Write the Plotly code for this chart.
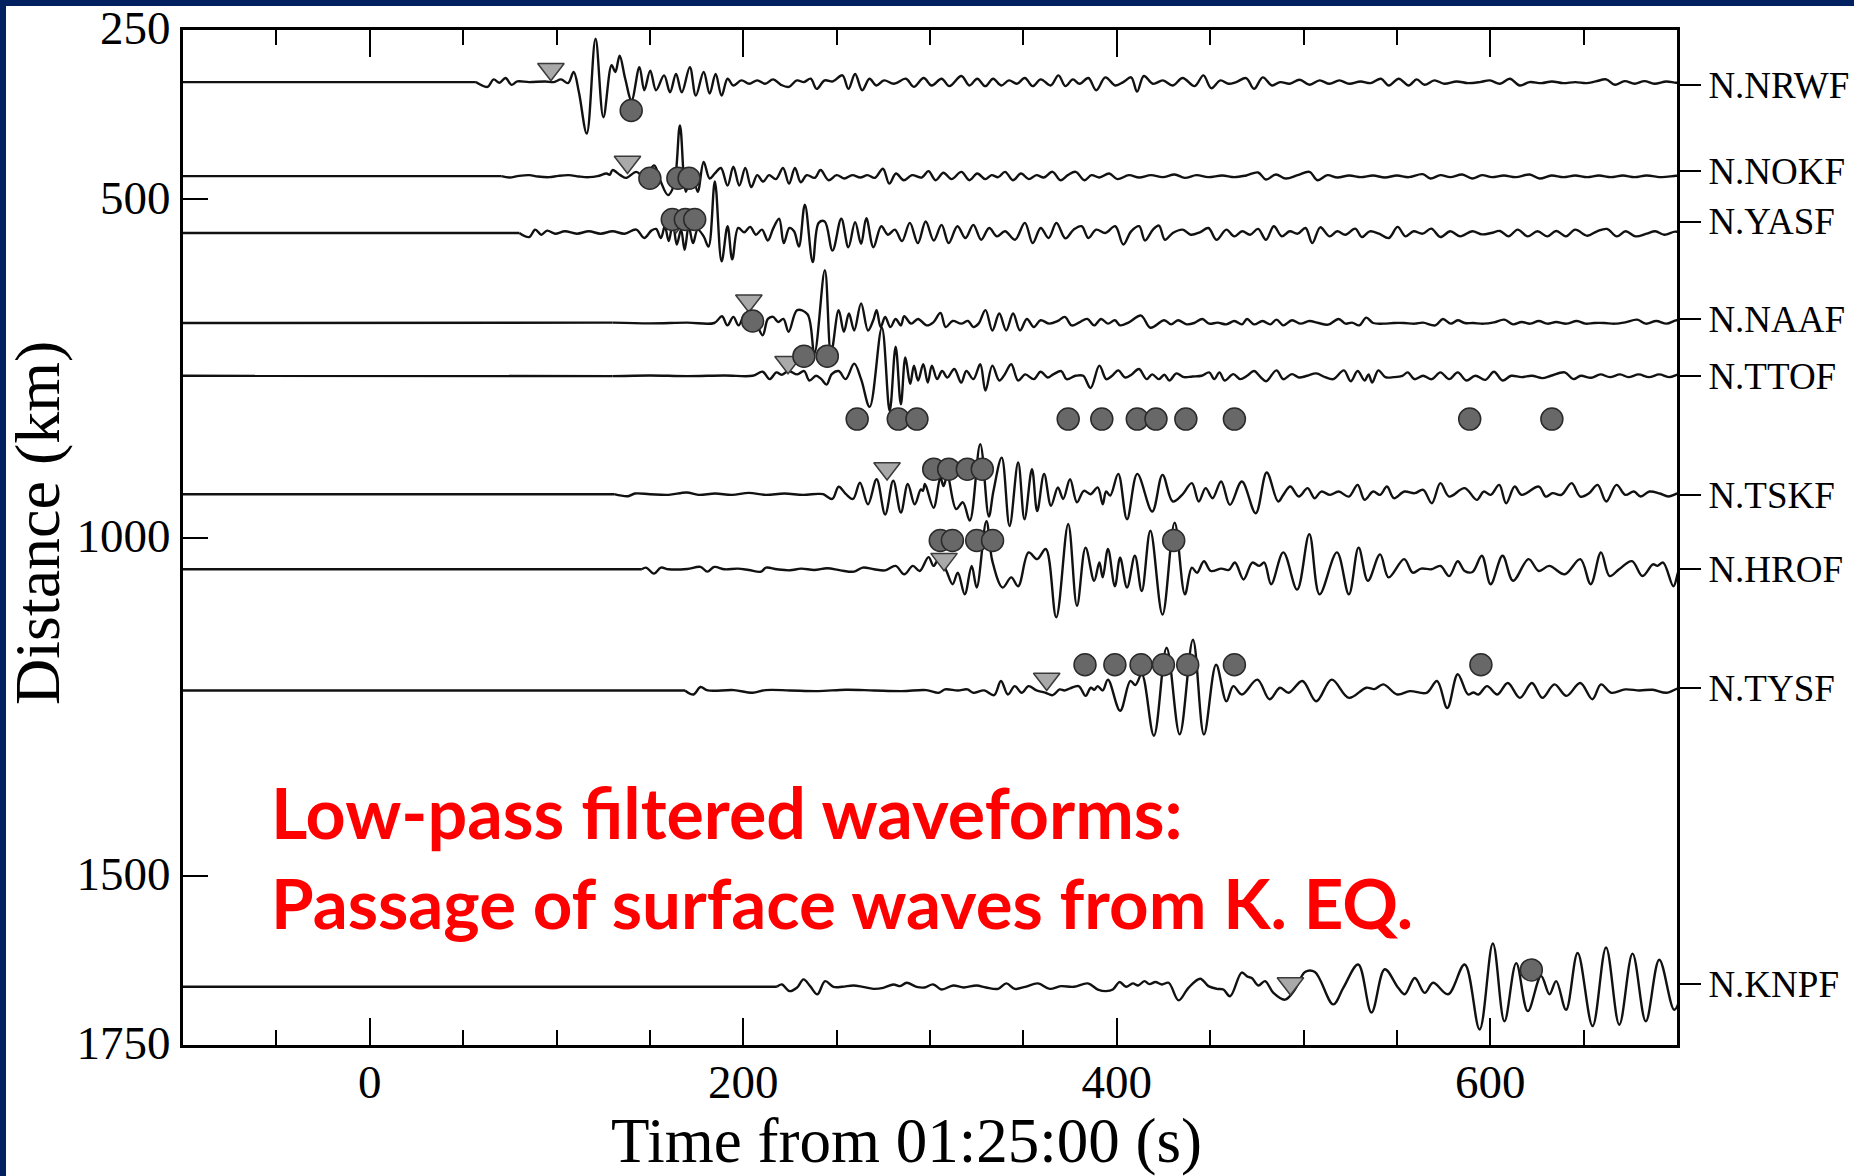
import plotly.graph_objects as go

# ---------------------------------------------------------------
# Station list, label positions (right axis) and trace baselines (km)
# ---------------------------------------------------------------
STATIONS = ["N.NRWF", "N.NOKF", "N.YASF", "N.NAAF", "N.TTOF",
            "N.TSKF", "N.HROF", "N.TYSF", "N.KNPF"]
LABEL_KM = [332, 459, 533, 677, 761, 937, 1047, 1223, 1660]
TRACE_KM = [327, 466, 550, 683, 761, 936, 1047, 1226, 1664]

# Waveform extrema: (time from 01:25:00 in s, deflection in km, up = +)
NRWF = [(-100, 0), (56.8, 0), (63.1, -7), (66.3, 4), (69.5, -1), (72.7, 6), (75.9, -4), (79, 1),
        (85.4, 0), (93.9, 1), (98.6, 0), (102.4, 4), (106.2, -1.5), (109.2, 15), (112, -15),
        (116.2, -76), (120.9, 64), (125.1, -52), (129.5, 25), (131.5, 15), (133.8, 39), (136.8, 5),
        (140.2, -27), (144.4, 22), (147, -12), (150.2, 17), (153.3, -12), (157.6, 10), (160.8, -15),
        (164, 12), (167.1, -15), (171.4, 22), (174.6, -20), (178.8, 15), (182, -17), (185.2, 12),
        (188.4, -20), (191.6, 5), (194.7, -5), (199, 2.5), (203.2, -2.5), (207.5, 2.5), (211.7, -2.5),
        (216, 4), (220.2, -4), (224.5, -7), (228.7, 2.5), (232.5, 0), (236.1, 5), (239.3, -10),
        (243.6, 2.5), (248, 1), (253.1, 10), (256.3, -10), (259.9, 12), (263.7, -12), (267.6, 5),
        (271.2, -5), (275.4, 2.5), (280.7, -2.5), (287.1, 5), (291.3, -7), (296.6, 6), (300.9, -5),
        (306.2, 5), (310.4, -6), (316.8, 9), (321.1, -5), (325.3, 5), (329.6, -6), (333.8, 5),
        (338.1, -5), (342.3, 2.5), (346.5, -2.5), (350.8, 6), (355, -6), (359.3, 4), (364.6, -5),
        (368.8, 10), (372.5, -6), (376.5, 4), (380.1, -2.5), (384.8, 6), (389, -12), (393.9, 7),
        (399.2, -5), (403.5, 0), (407.7, 7), (410.9, -14), (414.5, 9), (419.4, -2.5), (424.7, 2.5),
        (430, -5), (435.3, 6), (441.7, -6), (446.4, 10), (450.6, -9), (455.5, 2.5), (459.7, -2.5),
        (464, 0), (469.3, 6), (473.5, -10), (478.2, 7), (483.1, -5), (487.5, 0), (492.6, -2.5),
        (497.9, 3.5), (503.3, -4), (508.6, 2.5), (513.9, -2.5), (519.2, 2.5), (524.5, -2.5),
        (530.5, 1), (536, -1.5), (541.5, 5), (545.7, -5), (551, 5), (556.3, -5), (560.6, 4),
        (564.8, -4), (570.1, 2.5), (575.4, -2.5), (582, 1), (588, -1.5), (594.5, 0), (599.8, 2.5),
        (605.2, -2.5), (610.5, 5), (615.8, -5), (621, 0), (627.5, -1.5), (633, 1), (639, -1.5),
        (645.5, 0), (651.5, -1.5), (656.5, 1), (662.1, 4), (666.7, -4), (672, 1.5), (677.3, -2.5),
        (682.6, 1.5), (687.9, -2.5), (694.3, 1), (699.6, -1), (702, 0)]

NOKF = [(-100, 0), (70.5, 0), (74.8, -2), (80, 0.5), (85.4, 1.5), (90, -0.5), (96, -1.5), (101, 0.5),
        (106.6, 1.5), (112, -0.5), (117.3, -1.5), (122, 0), (126.8, 4), (128.5, 2), (130, 9),
        (134.2, 1.5), (137.4, -2.5), (142.7, 6.4), (147, -1), (152.3, 16), (155.5, -6), (159.7, -28),
        (162.9, -13), (166.1, 75), (169.3, -23), (172.5, 6.4), (175.6, -23), (178.8, 21), (182, -3.5),
        (184.8, 4), (188, 12), (191.6, -14), (194.7, 14), (197.9, -14), (201.1, 12), (204.3, -16),
        (207.5, 1.5), (210.7, -8), (213.8, 1.5), (217.5, -4.4), (221.3, 12), (224.5, -11), (227.7, 12),
        (230.8, -9), (234, 1.5), (238.3, -2.5), (241.4, 9), (245.7, -6), (250, 1.5), (254.2, -3.5),
        (258.4, 1.5), (262.7, -2), (266.5, 1.5), (270.5, -2.5), (274.8, 11), (278.2, -11), (281.8, 4),
        (286, -6), (290.3, 1.5), (295.6, -2), (299.2, 7.4), (303, -6), (307.2, 5), (311.5, -4.4),
        (316.8, 6.4), (321.1, -6), (325.3, 4), (329.6, -4.4), (333, 1.5), (336.5, -1.5), (340.2, 6.4),
        (344.4, -6), (348.7, 4), (352.9, -4.4), (357, 1.5), (361, -2), (365.6, 6.4), (369.9, -6),
        (373.8, 1.5), (378, 6.4), (382.7, -6), (386.5, 1.5), (390.7, -2), (396, 4), (400.3, -4.4),
        (406.5, 1.5), (412, -2), (418.3, 1.5), (424.7, -1.5), (431, 2.5), (436.4, -2.5), (442.7, 1.5),
        (449, -1.5), (456.5, 1), (463, -1.5), (469.3, 1), (475.7, 5.4), (479.9, -5), (485.2, 2.5),
        (490.5, -3.5), (496.9, 1.5), (503.2, 6.4), (507.5, -6), (512.8, 1.5), (518.1, -2), (524.5, 1),
        (530.8, -1.5), (537.2, 1), (543.6, -2), (550, 1), (556.3, -1.5), (563.8, 3), (568, -3.5),
        (573.3, 1.5), (578.6, -1.5), (585, 2.5), (590.3, -3.5), (595.6, 1.5), (600.9, -1.5),
        (607.3, 1), (613.7, -1.5), (621.1, 2.5), (626.4, -3.5), (632.8, 1), (639.2, -1.5), (645.5, 1),
        (651.9, -1.5), (658.2, 1), (664.6, -1.5), (671, 1), (677.3, -1.5), (683.7, 1), (692, -1.5),
        (699.6, 0.5), (702, 0)]

YASF = [(-100, 0), (80.1, 0), (85.4, -6), (88.6, 5), (91.8, -2.5), (95, 3.5), (99.2, -1), (104.5, 2.5),
        (110.9, -1), (117.3, 2.5), (123.6, -1), (130, 2.5), (136.4, -1), (142.7, 5), (147, -7.4),
        (150.8, 3.5), (153.3, 6), (155.9, -7.4), (158, 10), (160.1, -12), (162.3, 15), (164.4, -17),
        (166.7, 5), (168.6, -25), (170.8, 10), (173.1, -15), (175.6, 5), (178.8, -5), (181.4, -20),
        (184.8, 76), (188.4, -42), (191.6, 10), (194.1, -39), (197.3, 7.4), (200.5, 1), (203.7, 9),
        (206.8, -2.5), (210, 5), (213.2, -11), (216, 6.4), (219.2, 21), (221.7, -15), (224.7, 7.4),
        (227.2, 2.5), (229.8, -20), (233, 42), (237.2, -43), (240.4, 15), (243.6, 17), (247.8, -26),
        (252.5, 21), (256.3, -21), (259.9, 16), (263.1, -16), (265.9, 22), (269.7, -21), (273.9, 10),
        (277.5, -2.5), (281.2, 5), (285, -12), (289.2, 15), (293.5, -15), (297.7, 17), (302, -11),
        (306.2, 12), (310, -15), (314.7, 10), (319, -7.4), (323.2, 12), (327.4, -10), (331.7, 7.4),
        (335.9, -5), (340.2, 2.5), (345.5, -10), (350.8, 15), (355, -15), (359.3, 7.4), (363.5, -7.4),
        (367.7, 15), (372.5, -8), (376.9, 5), (381.2, 10), (384.8, -7.4), (389, 5), (393.9, 0),
        (399.2, 10), (403.5, -17), (407.7, 2.5), (412, 10), (415.1, -11), (419.4, 5), (422.6, 11),
        (425.8, -10), (430, 0), (435.3, 5), (439.6, -2.5), (444.5, 1), (449.1, 7.4), (453.4, -10),
        (458.7, 5), (462.9, -5), (467.2, 2.5), (471.4, -2.5), (475.7, 6), (479.9, -10), (484.1, 10),
        (488.4, -5), (492.6, 2.5), (496.9, -1), (501.1, 7.4), (504.7, -15), (509, 8.4), (513.9, -5),
        (518.1, 2.5), (522.4, -2.5), (527.7, 6.4), (531.3, -6), (535.5, 2.5), (540.4, -1),
        (545.7, -7.4), (550.4, 9), (554.6, -5), (558.9, 2.5), (563.8, -1), (568.4, 6.4), (573.3, -6),
        (578.6, 2.5), (583.9, -5), (590.3, 2.5), (595.6, -2), (600.5, 0), (605.2, 3), (609.8, -5),
        (614.7, 5), (620, -5), (625.3, 2.5), (630.6, -5), (635.3, 3), (640.6, -5), (645.5, 5),
        (651.9, -4), (657.2, 2.5), (662.5, 6), (667.8, -5), (672.5, 2.5), (677.8, -5), (683.7, -1),
        (688.4, 2.5), (693.2, -2.5), (699, 2), (702, 0)]

NAAF = [(-100, 0), (130, 0.5), (150, -0.5), (170, 0.5), (184.5, 0), (188.6, 10), (191.5, -3.5),
        (194.7, 9), (197.5, -3.5), (201.2, 14), (205.8, 6), (210.4, -18), (213.2, 6), (216, 9),
        (218.7, 1.5), (221.5, 6), (224.3, -13), (228.9, 19), (234.4, 13), (238.1, -45), (243.7, 78),
        (247, -45), (251.1, 19), (253.9, -13), (256.6, 14), (259.4, -11), (263.1, 29), (266.8, -11),
        (269.6, 4), (271.4, 19), (273.6, -6), (276, 9), (278.8, -6), (281.6, 6), (284.4, -3.5),
        (286.2, 10), (289.9, -1), (293.6, 6), (298.2, -3.5), (301.8, 1), (305.6, 15), (308.4, -6),
        (312.1, 3), (316.7, -1), (320.4, 3), (323.2, -6), (326, -1), (329.7, 19), (333.4, -11),
        (337.1, 14), (340.8, -11), (344.5, 14), (348.2, -11), (351.9, 6), (355.6, -6), (359.2, 4),
        (363.9, -1), (368.5, 3), (372.2, 9), (375.9, -3.5), (380, 1), (384.2, 6), (387.9, -3.5),
        (391.6, 6), (395.3, -1), (399, 4), (401.8, -3.5), (406.5, 1), (413, 11), (418, -7),
        (425.4, 4), (429.1, -2), (432.8, 4), (437.4, -2), (441.5, 0), (445.8, 6), (449.5, -1),
        (454, 0.5), (458.7, -2), (463, 3), (467, -2), (469.8, 6), (473.5, -2), (478.1, 3),
        (482.2, -2), (485.5, 5), (489.2, -3.5), (493.8, 4), (498.5, -1), (503.1, 3), (508, 0),
        (513.2, -2.5), (518.8, 6), (522.5, -1), (526, 0.5), (529.9, -3.5), (533.6, 8), (537.3, 0),
        (542.8, -1), (548.3, 0), (553.9, 0), (559.5, -1), (564, 0.5), (570.6, -3.5), (574.6, 6),
        (578.9, -1), (582.6, 4), (586.3, 0), (590.9, 0), (596.5, -1), (602, 1), (607.5, 5),
        (612.2, -2), (616.8, 1.5), (621.4, -1), (626, 3), (630.6, -1), (635.3, 1.5), (640.8, -1),
        (646.4, 3), (651, -1), (655.6, 0), (661.2, 0), (666.7, -1), (672.3, 1), (678.7, 5),
        (683.3, -1), (688.9, 3), (694.4, -1), (700, 4), (702, 0)]

TTOF = [(-100, 0), (130, -0.5), (150, 0.5), (170, -0.5), (190, 0.5), (205, 0), (210.4, 6), (214.1, -5),
        (217.8, 5), (220.5, 1.5), (224.3, 7), (228.9, 2), (232.6, 7), (235.4, -7), (239, 0),
        (241.8, -5), (244.6, -13), (247.4, 2.5), (251.1, 7), (254.8, -5), (259.4, 18), (263.1, -5),
        (267.7, -46), (274.2, 71), (278.4, -52), (281.6, 43), (284.4, -42), (286.8, 27), (289.4, -12),
        (291.4, 15), (293.6, -7), (296.4, 17), (298.8, -10), (301, 15), (303.8, -5), (306.5, 7),
        (309.3, -2.5), (313, 10), (316.7, -10), (319.5, 7), (323.2, -5), (326.9, 17), (329.7, -22),
        (333.4, 15), (337.1, -7), (340, 2), (343.5, 17), (347.2, -7), (351, 2), (355.6, -5),
        (359.2, 6), (363, -2.5), (366, 2), (370.3, 7), (373.1, -5), (378, 0), (382, 0), (386, -18),
        (390.7, 15), (394.4, -5), (397.5, 0), (400.8, 8), (404.5, -2.5), (408, 2), (411.9, 10),
        (416, -5), (419, 2), (422.5, -5), (425.5, 1.5), (428.2, -7), (431.9, 3.5), (436, -2),
        (440.5, -1), (445.5, 0), (449.5, 5), (452.2, -5), (455, 5), (457.8, -7), (462.4, 2.5),
        (466.1, -5), (469.8, 0), (473.5, 7), (477.2, -2.5), (480, -8), (485.5, 8), (489.2, -5),
        (493.8, 2.5), (497.5, -2.5), (502, 0), (506.8, 3.5), (511.5, -2), (516, -5), (521.6, 8),
        (525.3, -8), (529, 7), (532.7, -7), (534.8, 2), (536.8, -10), (540.1, 8), (543.8, -2),
        (548.4, -2), (553, 0), (555.8, 5), (559.5, -5), (564, 0), (568.7, -5), (573.3, 5), (578, -5),
        (582.6, 5), (587.2, -7), (592, 0), (597.4, -6), (602, 6), (606.6, -7), (611.2, 0),
        (616.8, -2), (622.3, 0), (627.9, -3.5), (632.5, 0), (639.9, 5), (644.5, -5), (648.5, 0),
        (654, -3), (659, 2), (664, -2), (669.5, 2), (674, -2), (679.5, 2), (685, -2), (690.5, 2),
        (696, -2), (701, 2), (702, 0)]

TSKF = [(-100, 0), (130.9, 0), (138.3, -3), (142, 1), (150, 0), (160, -1), (169.7, 2.5), (176, -1),
        (185, 1), (194, -1), (203, 2), (212, -1), (222, 1), (232, -1), (240, 0.5), (242.8, 0),
        (247.7, -7), (251.1, 11), (255, 0), (258.8, -7), (262.5, 17), (266.8, -15), (271.4, 22),
        (276, -30), (280.3, 20), (284.4, -27), (288.1, 15), (291.8, -15), (295.1, 7), (296.2, 5),
        (297.3, 15), (301.9, -20), (305.6, 25), (307.2, 12), (309.3, 27), (314, -22), (317.6, -12),
        (321.3, -39), (326.9, 74), (331.5, -33), (334, 5), (338.4, 54), (342.6, -47), (347.2, 47),
        (350.6, -37), (354.6, 37), (357.4, -25), (361.1, 30), (364.8, -17), (368.5, 10), (371.3, -7),
        (375, 22), (378.7, -12), (382.4, 5), (386, 0), (389.8, 10), (392.5, -15), (394.3, 4),
        (396.5, -2), (400.8, 30), (405.5, -37), (411, 30), (419, -25.6), (424.5, 28.6), (430, -10.8),
        (435, -1), (440.2, 16.3), (443.9, -10.8), (447.6, 8.9), (451.3, -5.9), (455.9, 18.7),
        (460.6, -15.8), (467, 18.7), (474.4, -28.1), (480.3, 32), (486.4, -10.8), (489.2, -1),
        (492.9, 11.3), (497.5, -3.5), (502.2, 8.9), (505.9, -5.9), (509.5, 3.9), (514.2, -1),
        (518.8, 3.9), (524.3, -3.5), (529, 13.8), (532.7, -8.4), (537.3, 3.9), (541, -1),
        (544.7, 11.3), (548.4, -5.9), (554, 3.9), (559.5, 1.5), (564.1, 6.4), (568.7, -13.3),
        (573.3, 16.3), (578, -3.5), (586.3, 8.9), (592.8, -8.4), (596.5, 3.9), (600.2, -1),
        (604.8, 13.8), (608.5, -13.3), (613.1, 11.3), (616.8, -1), (626, 11.3), (629.7, -3.5),
        (633.4, 1.5), (638.1, -1), (643.6, 16.3), (648.2, -3.5), (652.9, 1.5), (657.5, 13.8),
        (662.1, -10.8), (667.6, 13.8), (672.3, -1), (676.9, 3.9), (680.6, -3.5), (685.2, 3.9),
        (690.8, 1), (695.4, -3.5), (700.9, 1.5), (702, 0)]

HROF = [(-100, 0), (145.7, 0), (148, 2.5), (152.2, -6.4), (155.9, 2.5), (160, 0), (170, 0.5),
        (177.1, 3.5), (180.8, -3.5), (184.5, 3.5), (190, 0), (197, 1), (203, -1), (209.5, -3.5),
        (212.2, 2.5), (218, 0), (225, -1.5), (231, 1), (238, -1), (245, 1.5), (252, -1.5),
        (259.4, -3.5), (264, 2.5), (270, 0), (276, -1.5), (281.6, 5), (286.2, -7.4), (290.8, 5),
        (294.5, -2.5), (299.2, 18), (301.9, 5), (304.7, 15), (308.4, 0), (312.1, -22), (314.9, -5),
        (318.6, -37), (322.3, 5), (325, -27), (330.2, 71), (333.4, 12), (338.9, -27), (343.5, -12),
        (347.2, -25), (352.8, 25), (357.4, 15), (362, 30), (367.6, -71), (374, 67), (378.7, -54),
        (383.3, 32), (387.9, -17), (390.7, 10), (392.5, -12), (395.3, 30), (399, -25), (401.8, 17),
        (405.5, -27), (409.7, 20), (413.4, -32), (418, 57), (424.5, -67), (431, 69), (436.5, -37),
        (440.2, 2.5), (443, -5), (446.7, 12), (450.4, -2.5), (456, 1), (460, -1), (463.3, 10),
        (467.9, -15), (472.6, 10), (476.3, 5), (479, 10), (482.7, -22), (489.2, 25), (496.6, -30),
        (503.1, 52), (508.6, -37), (517.9, 25), (524.3, -37), (529.5, 32), (534.5, -17), (541, 22),
        (545.6, -12), (553.9, 15), (558.5, -5), (563, 1), (568.5, 0), (573.3, 5), (578, -10),
        (582.6, 12), (586.3, -2.5), (590.5, -4), (595.5, 20), (600.2, -22), (606.6, 20),
        (612.2, -17), (620.5, 15), (626, -2.5), (631.6, 5), (639.9, -7.4), (648.2, 15), (653.8, -22),
        (659.3, 25), (663.9, -10), (669, 0), (675.9, 12), (681.5, -10), (687.1, 7.4), (689.5, 5),
        (692.6, 10), (698.1, -25), (700.9, -2.5), (702, 0)]

TYSF = [(-100, 0), (168.8, 0), (173.4, -6), (177.1, 5), (181, 0), (195, 0.5), (204.9, -3.5),
        (212, 0.5), (225, 0), (240, -1), (255, 1), (270, 0), (285, -1), (298, 0.5), (304.7, -3.5),
        (308, 1.5), (315, 0), (320, 1.5), (323.2, -3.5), (329, 0), (334.3, -7), (338, 14),
        (341.7, -6), (345.4, 6.4), (349.1, -3.5), (352.8, 6.4), (357, 0), (362, -3.5), (365.7, -7),
        (369.4, 1.5), (372, 0), (375, 3), (379.6, 6.4), (383.3, -8), (386.1, 4), (388, 1),
        (389.8, 6.4), (392.5, 0), (395.3, 16), (401.8, -30), (407.3, 14), (410, 8), (413.4, 24),
        (419.9, -67), (426.7, 63), (433.7, -65), (440.8, 75), (446.7, -65), (453.2, 38),
        (458.7, -16), (462.4, 6.4), (467, -6), (475.3, 16), (481.8, -13), (487.4, 4), (492, -3.5),
        (499.4, 14), (506.8, -16), (515.1, 16), (524.3, -11), (533.6, 4), (538, 2), (542.8, 9),
        (550.2, -6), (557, -1), (565.9, -3.5), (571.5, 14), (577, -26), (582.6, 24), (588.1, -6),
        (591, -3), (593.7, -6), (598.3, 6.4), (603.8, -6), (609.4, 11), (615.9, -11), (622.3, 11),
        (627.9, -11), (634.4, 9), (640.8, -8), (648.2, 11), (654.7, -13), (659.3, 9), (664.9, -3.5),
        (672.3, 1.5), (680, 0), (687, 1), (694.4, -3.5), (700.9, 3), (702, 0)]

KNPF = [(-100, 0), (218, 0), (220.7, 3.5), (224.8, -6.4), (228.7, -1.5), (232.3, 11), (235.8, 1),
        (239.7, -11), (243.8, 8.4), (248.3, 0), (253, 0), (259, 2), (264, 0), (269.7, -3),
        (275, -1.5), (280.4, 3.5), (284, 1), (287.5, 6), (292.8, 0), (297, -1), (301.7, 3.5),
        (306.2, -4), (312.4, 2), (318, -1), (324.9, 2), (330, -1), (336.5, -3), (340.9, 5),
        (345.4, -3), (351, 0), (357.8, 5), (364.1, -3), (370, 1), (377, 0), (384.5, 5), (389.9, -4),
        (394.3, -6.4), (397.9, -4), (401.5, 7), (405, 0), (408.6, 5), (411.5, 2), (414.8, 8.4),
        (417.5, 4), (420.7, 7), (424.2, 3.5), (427.8, 6), (433.1, -20), (438.4, -1.5), (444.7, 12),
        (449.1, 1), (453.6, -3), (457.1, -4), (460.7, -14), (466.9, 21), (470, 15), (472.3, 13),
        (475.8, 2), (479.4, 8.4), (483.9, -9), (490.1, -19), (495.4, -4), (500.8, 22), (506.1, 22),
        (515.9, -26), (521.3, -1.5), (529.3, 33), (536.4, -38), (543.5, 26), (550.7, -1.5),
        (554.2, -11), (559.6, 13), (564.9, -9), (569.4, 6), (577.4, -11), (586.3, 33), (594.3, -63),
        (601.4, 64), (607.6, -51), (613.9, 35), (620.1, -36), (627.2, 16), (631.7, -11),
        (635.3, 8.4), (640.6, -34), (646.8, 50), (654.8, -58), (662, 58), (669.1, -56),
        (676.2, 49), (683.3, -51), (690.5, 40), (698.5, -34), (702, -14)]

WAVEFORMS = [NRWF, NOKF, YASF, NAAF, TTOF, TSKF, HROF, TYSF, KNPF]

# Onset picks (inverted triangles)
ONSET_T = [97, 138, 164, 203, 224, 277, 307.5, 362.5, 493]
ONSET_KM = [308, 445, 533, 650, 741, 898, 1032, 1209, 1659]

# Surface-wave picks (circles)
PICK_T = [140,
          150, 165, 171,
          162, 169, 174,
          205,
          232.5, 245,
          261, 283, 293, 374, 392, 411, 421, 437, 463, 589, 633,
          302, 310, 320, 328,
          305.5, 312, 325, 333.5, 430.5,
          383, 399, 413, 425, 438, 463, 595,
          622]
PICK_KM = [369,
           469, 469, 469,
           530, 530, 530,
           680,
           732, 732,
           825, 825, 825, 825, 825, 825, 825, 825, 825, 825, 825,
           899, 899, 899, 899,
           1004.5, 1004.5, 1004.5, 1004.5, 1004.5,
           1188, 1188, 1188, 1188, 1188, 1188, 1188,
           1639]

X_RANGE = [-100, 700]
Y_RANGE = [1750, 250]
Y_TICKS = [250, 500, 1000, 1500, 1750]

# ---------------------------------------------------------------
W, H = 1854, 1176
ML, MR, MT, MB = 183, 177, 30, 131
PW, PH = W - ML - MR, H - MT - MB


def px(x):
    return (x - ML) / PW


def py(y):
    return (H - MB - y) / PH


SERIF = "Liberation Serif"
TRACE_LINE = dict(color="#111111", width=2.4)

fig = go.Figure()

for base, wave in zip(TRACE_KM, WAVEFORMS):
    # quiet pre-event part: straight line up to the first recorded motion
    fig.add_trace(go.Scatter(
        x=[t for t, _ in wave[:2]],
        y=[base - a for _, a in wave[:2]],
        mode="lines", line=dict(**TRACE_LINE, shape="linear"), hoverinfo="skip",
    ))
    # recorded motion, smoothed through its extrema
    fig.add_trace(go.Scatter(
        x=[t for t, _ in wave[1:]],
        y=[base - a for _, a in wave[1:]],
        mode="lines", line=dict(**TRACE_LINE, shape="spline", smoothing=1.0),
        hoverinfo="skip",
    ))

fig.add_trace(go.Scatter(
    x=ONSET_T, y=ONSET_KM, mode="markers",
    marker=dict(symbol="triangle-down", size=23, color="#a9a9a9",
                line=dict(color="#3a3a3a", width=1.5)),
))
fig.add_trace(go.Scatter(
    x=PICK_T, y=PICK_KM, mode="markers",
    marker=dict(symbol="circle", size=22, color="#686868",
                line=dict(color="#2a2a2a", width=1.5)),
))
# carrier for the right-hand station axis
fig.add_trace(go.Scatter(x=[None], y=[None], yaxis="y2", mode="markers"))

fig.update_layout(
    width=W, height=H, autosize=False,
    margin=dict(l=ML, r=MR, t=MT, b=MB, pad=0, autoexpand=False),
    paper_bgcolor="white", plot_bgcolor="white",
    showlegend=False,
    font=dict(family=SERIF, color="black"),
    xaxis=dict(
        range=X_RANGE, tickmode="linear", tick0=0, dtick=200,
        ticks="inside", ticklen=27, tickwidth=2, tickcolor="black",
        minor=dict(tickmode="linear", tick0=0, dtick=50, ticks="inside",
                   ticklen=15, tickwidth=2, tickcolor="black", showgrid=False),
        showline=True, linewidth=3, linecolor="black", mirror="ticks",
        showgrid=False, zeroline=False, automargin=False,
        ticklabelstandoff=-6,
        tickfont=dict(family=SERIF, size=47, color="black"),
    ),
    yaxis=dict(
        range=Y_RANGE, tickmode="array", tickvals=Y_TICKS,
        ticktext=[str(v) for v in Y_TICKS],
        ticks="inside", ticklen=25, tickwidth=2, tickcolor="black",
        showline=True, linewidth=3, linecolor="black", mirror=True,
        showgrid=False, zeroline=False, automargin=False,
        ticklabelshift=2, ticklabeloverflow="allow",
        tickfont=dict(family=SERIF, size=47, color="black"),
    ),
    yaxis2=dict(
        range=Y_RANGE, overlaying="y", side="right",
        tickmode="array", tickvals=LABEL_KM, ticktext=STATIONS,
        ticks="outside", ticklen=23, tickwidth=2, tickcolor="black",
        showline=False, showgrid=False, zeroline=False, automargin=False,
        ticklabeloverflow="allow",
        tickfont=dict(family=SERIF, size=37, color="black"),
    ),
)

annotations = [
    dict(text="Distance (km)", textangle=-90, x=px(37), y=py(523),
         xref="paper", yref="paper", xanchor="center", yanchor="middle",
         showarrow=False, font=dict(family=SERIF, size=64, color="black")),
    dict(text="Time from 01:25:00 (s)", x=px(906), y=py(1141),
         xref="paper", yref="paper", xanchor="center", yanchor="middle",
         showarrow=False, font=dict(family=SERIF, size=63, color="black")),
    dict(text="<b>Low-pass filtered waveforms:</b>", x=px(269), y=py(812),
         xref="paper", yref="paper", xanchor="left", yanchor="middle",
         showarrow=False, font=dict(family="Lato", size=70, color="#ff0000")),
    dict(text="<b>Passage of surface waves from K. EQ.</b>", x=px(269), y=py(902),
         xref="paper", yref="paper", xanchor="left", yanchor="middle",
         showarrow=False, font=dict(family="Lato", size=69, color="#ff0000")),
]
fig.update_layout(annotations=annotations)

# navy frame strips along the top and left edges
NAVY = "#002060"
fig.add_shape(type="rect", xref="paper", yref="paper",
              x0=px(-10), x1=px(W + 10), y0=py(6), y1=py(-10),
              fillcolor=NAVY, line=dict(width=0), layer="above")
fig.add_shape(type="rect", xref="paper", yref="paper",
              x0=px(-10), x1=px(6), y0=py(H + 10), y1=py(-10),
              fillcolor=NAVY, line=dict(width=0), layer="above")

fig.write_html("out.html")
